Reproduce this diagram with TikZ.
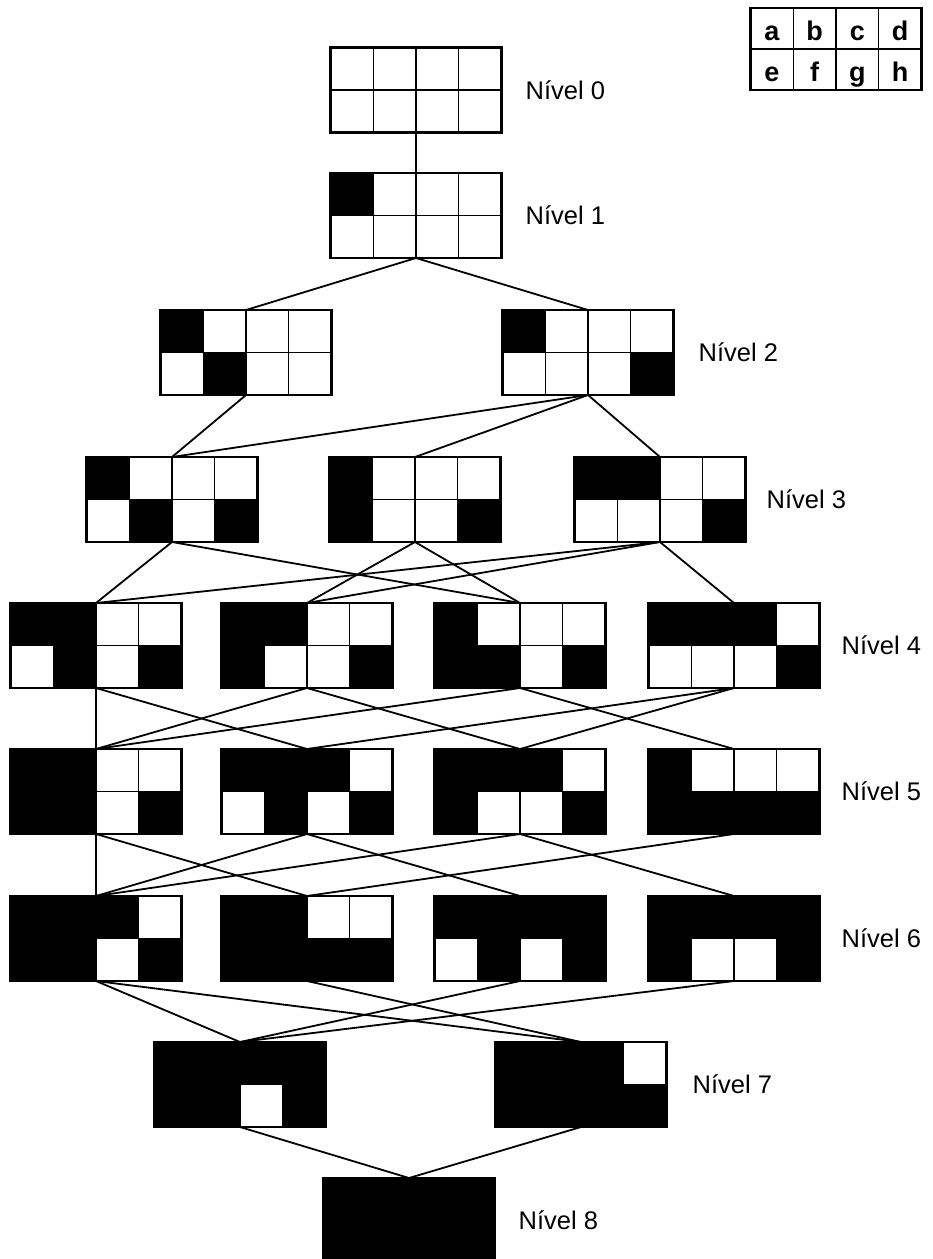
\documentclass[tikz,border=0pt]{standalone}
\usepackage{fontspec}
\setmainfont{Liberation Sans}
\usetikzlibrary{positioning}

% paint cells of a board black: list of col/row (col 0..3 = a..d, row 0 top, 1 bottom)
\newcommand{\blacken}[2]{%
  \foreach \c/\r in {#2}
    \fill ([xshift=\c*42.75pt, yshift=-\r*42.5pt]#1.north west) rectangle ++(42.75,42.5);}

\begin{document}
\begin{tikzpicture}[
  x=1pt, y=-1pt,
  board/.style={
    draw,
    line width=2.2pt,
    minimum width=171pt,
    minimum height=85pt,
    inner sep=0pt,
    outer sep=0pt
  },
  cellline/.style={line width=1.3pt},
  lvl/.style={font=\fontsize{25.5}{30}\selectfont, inner sep=0pt},
  keyletter/.style={font=\fontsize{27}{30}\selectfont\bfseries, inner sep=0pt, anchor=base},
  link/.style={line width=1.8pt}
]
\useasboundingbox (0,0) rectangle (933,1259);

% boards, one row per level
\node[board] (L0) at (416,90) {};
\node[board] (L1) at (416,215.5) {};
\node[board] (L2a) at (246,352.5) {};
\node[board] (L2b) at (588,352.5) {};
\node[board] (L3a) at (172,499.5) {};
\node[board] (L3b) at (415,499.5) {};
\node[board] (L3c) at (660,499.5) {};
\node[board] (L4a) at (96,645.5) {};
\node[board] (L4b) at (307,645.5) {};
\node[board] (L4c) at (520,645.5) {};
\node[board] (L4d) at (734,645.5) {};
\node[board] (L5a) at (96,791.5) {};
\node[board] (L5b) at (307,791.5) {};
\node[board] (L5c) at (520,791.5) {};
\node[board] (L5d) at (734,791.5) {};
\node[board] (L6a) at (96,938.5) {};
\node[board] (L6b) at (307,938.5) {};
\node[board] (L6c) at (520,938.5) {};
\node[board] (L6d) at (734,938.5) {};
\node[board] (L7a) at (240,1084.5) {};
\node[board] (L7b) at (581,1084.5) {};
\node[board, fill=black] (L8) at (409,1220.5) {};
\node[board, minimum height=82pt] (key) at (836,49) {};

% black cells
\blacken{L1}{0/0}
\blacken{L2a}{0/0,1/1}
\blacken{L2b}{0/0,3/1}
\blacken{L3a}{0/0,1/1,3/1}
\blacken{L3b}{0/0,0/1,3/1}
\blacken{L3c}{0/0,1/0,3/1}
\blacken{L4a}{0/0,1/0,1/1,3/1}
\blacken{L4b}{0/0,1/0,0/1,3/1}
\blacken{L4c}{0/0,0/1,1/1,3/1}
\blacken{L4d}{0/0,1/0,2/0,3/1}
\blacken{L5a}{0/0,1/0,0/1,1/1,3/1}
\blacken{L5b}{0/0,1/0,2/0,1/1,3/1}
\blacken{L5c}{0/0,1/0,2/0,0/1,3/1}
\blacken{L5d}{0/0,0/1,1/1,2/1,3/1}
\blacken{L6a}{0/0,1/0,2/0,0/1,1/1,3/1}
\blacken{L6b}{0/0,1/0,0/1,1/1,2/1,3/1}
\blacken{L6c}{0/0,1/0,2/0,3/0,1/1,3/1}
\blacken{L6d}{0/0,1/0,2/0,3/0,0/1,3/1}
\blacken{L7a}{0/0,1/0,2/0,3/0,0/1,1/1,3/1}
\blacken{L7b}{0/0,1/0,2/0,0/1,1/1,2/1,3/1}

% inner grid lines
\foreach \b in {L0,L1,L2a,L2b,L3a,L3b,L3c,L4a,L4b,L4c,L4d,L5a,L5b,L5c,L5d,L6a,L6b,L6c,L6d,L7a,L7b,key} {
  \foreach \i in {1,2,3}
    \draw[cellline] ([xshift=\i*42.75pt]\b.north west) -- ([xshift=\i*42.75pt]\b.south west);
  \draw[cellline] (\b.west) -- (\b.east);
}

% key letters
\foreach \t/\c/\r in {a/0/0,b/1/0,c/2/0,d/3/0,e/0/1,f/1/1,g/2/1,h/3/1}
  \node[keyletter] (k\t) at ([xshift=(\c+0.5)*42.75pt, yshift=-(\r*41+32)*1pt]key.north west) {\t};

% level labels
\node[lvl, right=24pt of L0] (n0) {Nível 0};
\node[lvl, right=24pt of L1] (n1) {Nível 1};
\node[lvl, right=25pt of L2b] (n2) {Nível 2};
\node[lvl, right=21pt of L3c] (n3) {Nível 3};
\node[lvl, right=22pt of L4d] (n4) {Nível 4};
\node[lvl, right=22pt of L5d] (n5) {Nível 5};
\node[lvl, right=22pt of L6d] (n6) {Nível 6};
\node[lvl, right=26pt of L7b] (n7) {Nível 7};
\node[lvl, right=24pt of L8] (n8) {Nível 8};

% connectors
\draw[link] (L0.south) -- (L1.north);
\draw[link] (L1.south) -- (L2a.north);
\draw[link] (L1.south) -- (L2b.north);
\draw[link] (L2a.south) -- (L3a.north);
\draw[link] (L2b.south) -- (L3a.north);
\draw[link] (L2b.south) -- (L3b.north);
\draw[link] (L2b.south) -- (L3c.north);
\draw[link] (L3a.south) -- (L4a.north);
\draw[link] (L3a.south) -- (L4c.north);
\draw[link] (L3b.south) -- (L4b.north);
\draw[link] (L3b.south) -- (L4c.north);
\draw[link] (L3c.south) -- (L4a.north);
\draw[link] (L3c.south) -- (L4b.north);
\draw[link] (L3c.south) -- (L4d.north);
\draw[link] (L4a.south) -- (L5a.north);
\draw[link] (L4a.south) -- (L5b.north);
\draw[link] (L4b.south) -- (L5a.north);
\draw[link] (L4b.south) -- (L5c.north);
\draw[link] (L4c.south) -- (L5a.north);
\draw[link] (L4c.south) -- (L5d.north);
\draw[link] (L4d.south) -- (L5b.north);
\draw[link] (L4d.south) -- (L5c.north);
\draw[link] (L5a.south) -- (L6a.north);
\draw[link] (L5a.south) -- (L6b.north);
\draw[link] (L5b.south) -- (L6a.north);
\draw[link] (L5b.south) -- (L6c.north);
\draw[link] (L5c.south) -- (L6a.north);
\draw[link] (L5c.south) -- (L6d.north);
\draw[link] (L5d.south) -- (L6b.north);
\draw[link] (L6a.south) -- (L7a.north);
\draw[link] (L6a.south) -- (L7b.north);
\draw[link] (L6b.south) -- (L7b.north);
\draw[link] (L6c.south) -- (L7a.north);
\draw[link] (L6d.south) -- (L7a.north);
\draw[link] (L7a.south) -- (L8.north);
\draw[link] (L7b.south) -- (L8.north);

\end{tikzpicture}
\end{document}
